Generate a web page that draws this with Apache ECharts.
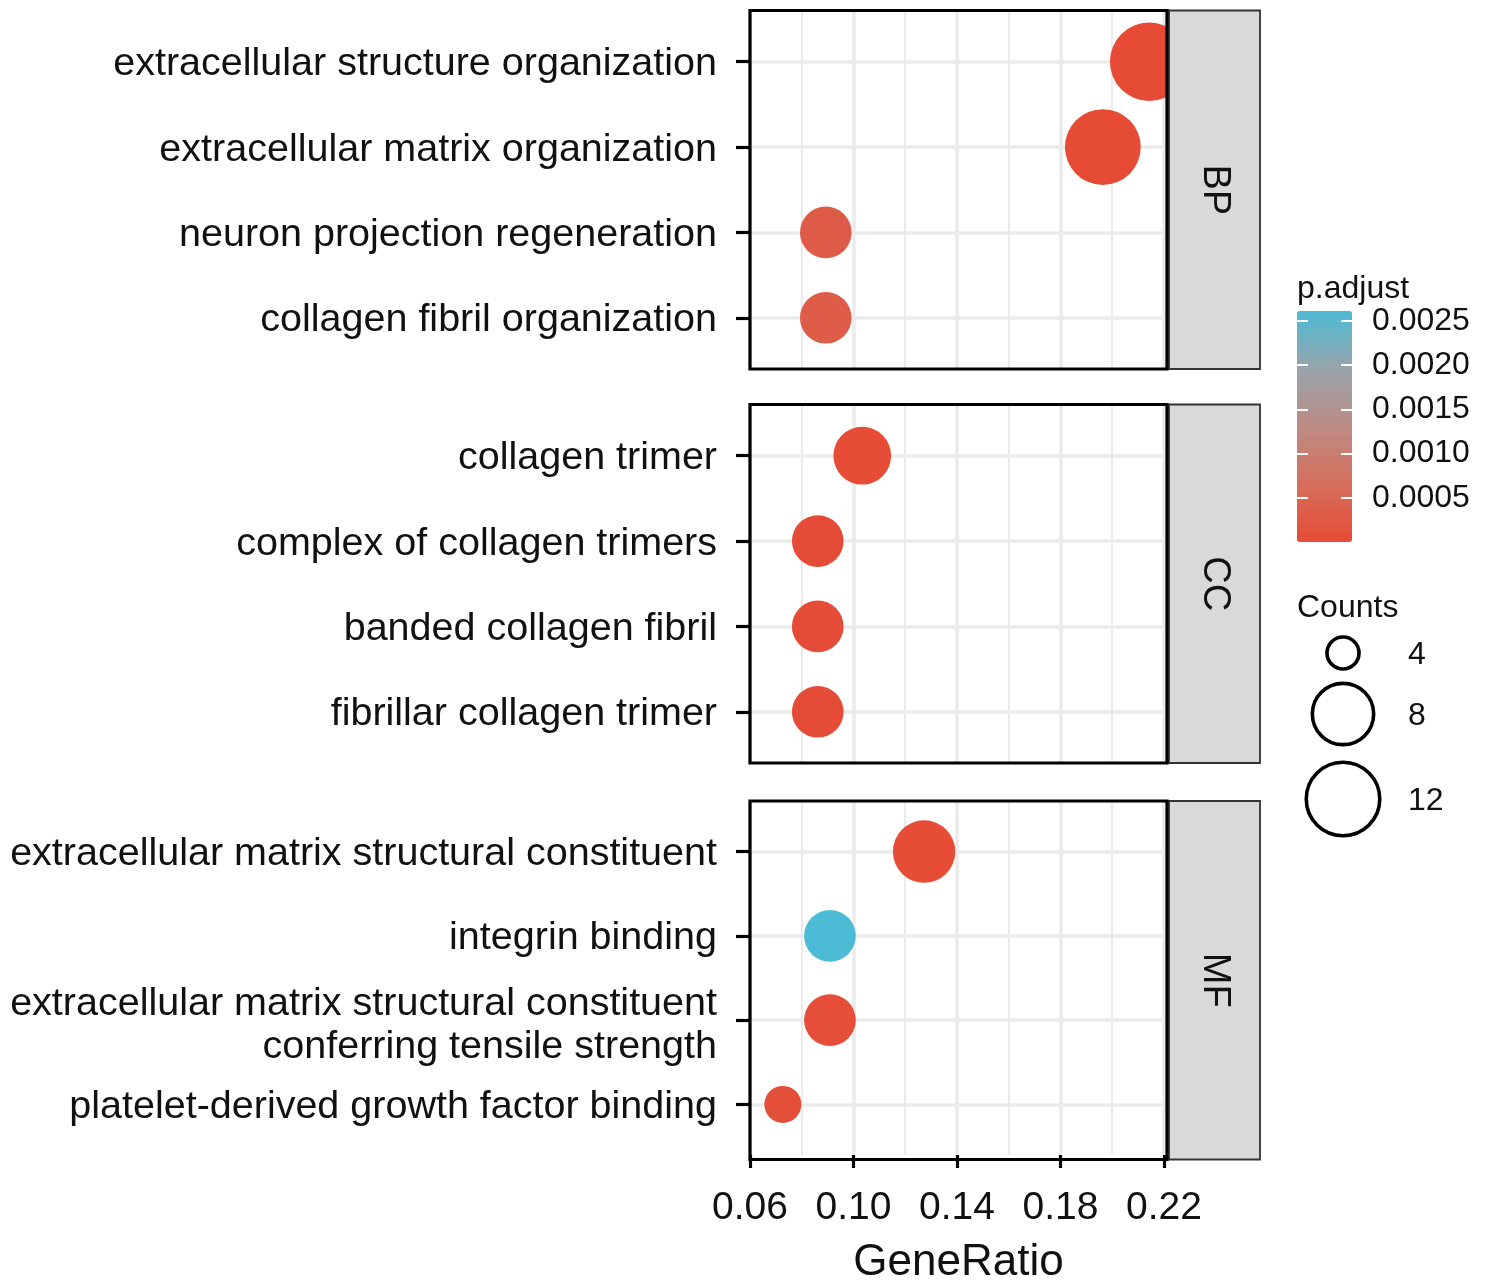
<!DOCTYPE html>
<html><head><meta charset="utf-8">
<script src="https://cdn.jsdelivr.net/npm/echarts@6/dist/echarts.min.js"></script>
<style>html,body{margin:0;padding:0;background:#fff}#c{width:1491px;height:1286px}</style>
</head><body><div id="c"></div>
<script>
// ---- data ----
const panelNames = ['BP', 'CC', 'MF'];
const bpTerms = ['extracellular structure organization', 'extracellular matrix organization', 'neuron projection regeneration', 'collagen fibril organization'];
const bpRatio = [0.2143, 0.1964, 0.0893, 0.0893];
const bpCount = [12, 11, 5, 5];
const bpPadj  = [0.000004, 0.000005, 0.00031, 0.00033];
const ccTerms = ['collagen trimer', 'complex of collagen trimers', 'banded collagen fibril', 'fibrillar collagen trimer'];
const ccRatio = [0.1034, 0.0862, 0.0862, 0.0862];
const ccCount = [6, 5, 5, 5];
const ccPadj  = [0.00002, 0.00003, 0.00003, 0.00003];
const mfTerms = ['extracellular matrix structural constituent', 'integrin binding', 'extracellular matrix structural constituent\nconferring tensile strength', 'platelet-derived growth factor binding'];
const mfRatio = [0.1273, 0.0909, 0.0909, 0.0727];
const mfCount = [7, 5, 5, 4];
const mfPadj  = [0.00002, 0.00261, 0.00005, 0.00008];
const xTicks = [0.06, 0.10, 0.14, 0.18, 0.22];
const padjTicks = [0.0005, 0.0010, 0.0015, 0.0020, 0.0025];
const countBreaks = [4, 8, 12];

// ---- layout / scales ----
const FONT = "'Liberation Sans', Arial, Helvetica, sans-serif";
const TXT = '#111';
const PL = 750, PW = 417, PH = 358.5, TOPS = [10.5, 404.5, 801];
const X_MIN = 0.06, X_MAX = 0.2212;
const P_MIN = 0.000003, P_MAX = 0.00261;
const C_MIN = 4, C_MAX = 12;
const CB = {left: 1297, top: 311, width: 55, height: 231};
function sizeOf(c) { return 37 + 41.5 * Math.sqrt((c - C_MIN) / (C_MAX - C_MIN)); }

const terms = [bpTerms, ccTerms, mfTerms];
const ratios = [bpRatio, ccRatio, mfRatio];
const counts = [bpCount, ccCount, mfCount];
const padjs = [bpPadj, ccPadj, mfPadj];
const rowVals = [1, 2, 3, 4];
// small downward nudge of the text labels relative to their tick (in row units)
const labelNudge = (i, k) => (terms[i][k].indexOf('\n') >= 0 ? 0.062 : 0.03);

const grids = TOPS.map(t => ({left: PL, top: t, width: PW, height: PH}));
grids.push({left: CB.left, top: CB.top, width: CB.width, height: CB.height});

const xAxes = [0, 1, 2].map(i => ({
  gridIndex: i, type: 'value', min: X_MIN, max: X_MAX, interval: 0.04,
  axisLine: {show: false},
  axisTick: {show: i === 2, customValues: xTicks, length: 13, lineStyle: {color: '#000', width: 3.2}},
  axisLabel: {show: i === 2, customValues: xTicks, formatter: v => v.toFixed(2), fontSize: 39,
              color: TXT, margin: 34, fontFamily: FONT, showMinLabel: true, showMaxLabel: true},
  splitLine: {show: true, lineStyle: {color: '#EBEBEB', width: 3.5}},
  minorTick: {show: false, splitNumber: 2},
  minorSplitLine: {show: true, lineStyle: {color: '#EBEBEB', width: 2}},
  name: i === 2 ? 'GeneRatio' : '', nameLocation: 'middle', nameGap: 86,
  nameTextStyle: {fontSize: 44, color: TXT, fontFamily: FONT}
}));
xAxes.push({gridIndex: 3, type: 'value', show: false, min: 0, max: 1});

const yAxes = [0, 1, 2].map(i => ({
  gridIndex: i, type: 'value', min: 0.4, max: 4.6, inverse: true,
  axisLine: {show: false},
  axisTick: {show: true, customValues: rowVals, length: 14, lineStyle: {color: '#000', width: 3.2}},
  axisLabel: {customValues: rowVals.map((v, k) => v + labelNudge(i, k)),
              formatter: v => terms[i][Math.round(v) - 1], fontSize: 39.5,
              color: TXT, margin: 33, lineHeight: 43, align: 'right', fontFamily: FONT},
  splitLine: {show: true, lineStyle: {color: '#EBEBEB', width: 3.5}}
}));
yAxes.push({
  gridIndex: 3, type: 'value', min: P_MIN, max: P_MAX, position: 'left', z: 10,
  axisLine: {show: false},
  axisTick: {show: true, inside: true, customValues: padjTicks, length: 11, lineStyle: {color: '#fff', width: 2}},
  axisLabel: {show: false}, splitLine: {show: false}
});
yAxes.push({
  gridIndex: 3, type: 'value', min: P_MIN, max: P_MAX, position: 'right', z: 10,
  axisLine: {show: false},
  axisTick: {show: true, inside: true, customValues: padjTicks, length: 11, lineStyle: {color: '#fff', width: 2}},
  axisLabel: {show: true, customValues: padjTicks, formatter: v => v.toFixed(4), fontSize: 32,
              color: TXT, margin: 20, fontFamily: FONT},
  splitLine: {show: false}
});

const series = [0, 1, 2].map(i => ({
  type: 'scatter', xAxisIndex: i, yAxisIndex: i,
  data: ratios[i].map((r, k) => [r, rowVals[k], counts[i][k], padjs[i][k]]),
  symbol: 'circle',
  symbolSize: d => sizeOf(d[2]),
  itemStyle: {opacity: 1},
  silent: true
}));

const graphic = [];
TOPS.forEach((t, i) => {
  graphic.push({type: 'rect', shape: {x: PL + PW, y: t - 6, width: 96, height: PH + 12}, style: {fill: '#fff'}, z: 50, silent: true});
  graphic.push({type: 'rect', shape: {x: 1169, y: t, width: 91, height: PH}, style: {fill: '#D9D9D9', stroke: '#333', lineWidth: 1.8}, z: 60, silent: true});
  graphic.push({type: 'text', x: 1214.5, y: t + PH / 2, rotation: -Math.PI / 2,
    style: {text: panelNames[i], fontSize: 38, fill: TXT, align: 'center', verticalAlign: 'middle', fontFamily: FONT}, z: 61, silent: true});
  graphic.push({type: 'rect', shape: {x: PL, y: t, width: PW, height: PH}, style: {fill: 'none', stroke: '#000', lineWidth: 3.2}, z: 70, silent: true});
});
graphic.push({type: 'text', x: 1297, y: 289, style: {text: 'p.adjust', fontSize: 32, fill: TXT, align: 'left', verticalAlign: 'middle', fontFamily: FONT}, z: 60});
graphic.push({type: 'text', x: 1297, y: 608, style: {text: 'Counts', fontSize: 32, fill: TXT, align: 'left', verticalAlign: 'middle', fontFamily: FONT}, z: 60});
const countY = [653, 714, 799];
countBreaks.forEach((c, k) => {
  graphic.push({type: 'circle', shape: {cx: 1343, cy: countY[k], r: sizeOf(c) / 2 - 2.5}, style: {fill: 'none', stroke: '#000', lineWidth: 3.6}, z: 60});
  graphic.push({type: 'text', x: 1408, y: countY[k] + 2, style: {text: String(c), fontSize: 32, fill: TXT, align: 'left', verticalAlign: 'middle', fontFamily: FONT}, z: 60});
});

const chart = echarts.init(document.getElementById('c'), null, {renderer: 'canvas'});
chart.setOption({
  animation: false,
  backgroundColor: '#fff',
  grid: grids,
  xAxis: xAxes,
  yAxis: yAxes,
  visualMap: {
    type: 'continuous', min: P_MIN, max: P_MAX, dimension: 3, seriesIndex: [0, 1, 2],
    inRange: {color: ['#E64B35', '#D56F5C', '#BD8B83', '#98A4AB', '#4DBBD5']},
    left: CB.left, top: CB.top, itemWidth: CB.width, itemHeight: CB.height,
    calculable: false, hoverLink: false, padding: 0, orient: 'vertical', z: 1, text: null
  },
  series: series,
  graphic: graphic
});
</script></body></html>
